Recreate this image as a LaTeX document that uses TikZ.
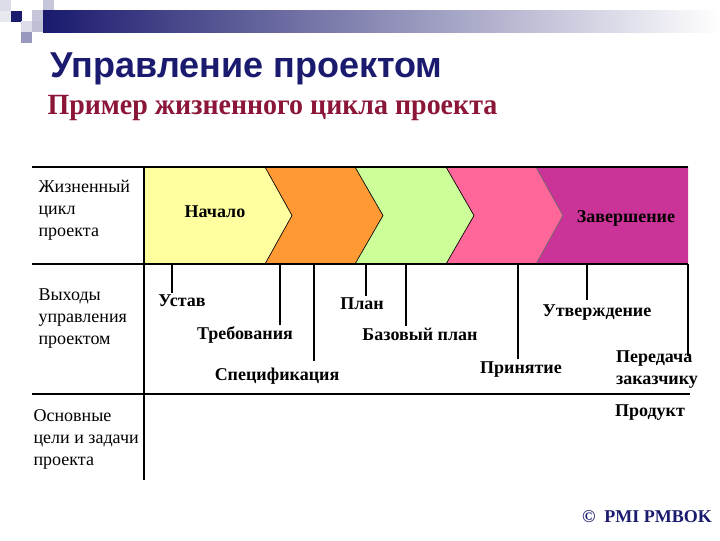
\documentclass[tikz,border=0pt]{standalone}
\usepackage{fontspec}
\setmainfont{Liberation Serif}
\newfontfamily\headfont{Liberation Sans}
\usetikzlibrary{calc}

\definecolor{navy}{RGB}{26,26,110}
\definecolor{maroon}{RGB}{140,22,56}
\definecolor{chyellow}{RGB}{255,255,160}
\definecolor{chorange}{RGB}{255,153,51}
\definecolor{chgreen}{RGB}{204,255,153}
\definecolor{chpink}{RGB}{255,102,153}
\definecolor{chpurple}{RGB}{204,51,153}

\begin{document}
\begin{tikzpicture}
	[
	x=0.75pt, y=-0.75pt,
	every node/.style={inner sep=1pt},
	rowtext/.style={align=left, anchor=west, font=\fontsize{13.5}{16.5}\selectfont},
	outtext/.style={font=\bfseries\fontsize{13.5}{16.5}\selectfont},
	rule/.style={line width=0.9pt},
	tickline/.style={line width=0.8pt},
	chev/.style={draw=black, line width=0.5pt}
	]
	\useasboundingbox (0,0) rectangle (720,540);

	\fill[navy!15] (0,0) rectangle (11,11);
	\fill[navy!10] (0,11) rectangle (11,22);
	\fill[navy] (11,11) rectangle (22,22);
	\fill[navy!25] (32,10) rectangle (43,21);
	\fill[navy!25] (43,0) rectangle (54,10);
	\fill[navy!15] (21,21) rectangle (32,32);
	\fill[navy!28] (32,21) rectangle (43,32);
	\fill[navy!45] (21,32) rectangle (32,43);
	\shade[left color=navy, right color=white] (43,10) rectangle (720,32);

	\node[anchor=west, text=navy, font=\headfont\bfseries\fontsize{27}{31}\selectfont] (title) at (49,69) {Управление проектом};
	\node[anchor=west, text=maroon, xscale=0.953, font=\bfseries\fontsize{22}{26}\selectfont] (subtitle) at (46,108) {Пример жизненного цикла проекта};

	\coordinate (c1) at (265,167);
	\coordinate (p1) at (292,215.5);
	\coordinate (d1) at (265,264);
	\coordinate (c2) at (355,167);
	\coordinate (p2) at (383,215.5);
	\coordinate (d2) at (355,264);
	\coordinate (c3) at (446,167);
	\coordinate (p3) at (474,215.5);
	\coordinate (d3) at (446,264);
	\coordinate (c4) at (536,167);
	\coordinate (p4) at (563,215.5);
	\coordinate (d4) at (536,264);

	\fill[chyellow] (144,167) -- (c1) -- (p1) -- (d1) -- (144,264) -- cycle;
	\fill[chorange] (c1) -- (c2) -- (p2) -- (d2) -- (d1) -- (p1) -- cycle;
	\fill[chgreen] (c2) -- (c3) -- (p3) -- (d3) -- (d2) -- (p2) -- cycle;
	\fill[chpink] (c3) -- (c4) -- (p4) -- (d4) -- (d3) -- (p3) -- cycle;
	\fill[chpurple] (c4) -- (688,167) -- (688,264) -- (d4) -- (p4) -- cycle;
	\draw[chev] (c1) -- (p1) -- (d1);
	\draw[chev] (c2) -- (p2) -- (d2);
	\draw[chev] (c3) -- (p3) -- (d3);
	\draw[chev, draw=black!60] (c4) -- (p4) -- (d4);

	\draw[rule] (32,167) -- (688,167);
	\draw[rule] (32,264) -- (688,264);
	\draw[rule] (32,394) -- (690,394);
	\draw[rule] (144,167) -- (144,480);

	\node[rowtext] (life) at (37,210) {Жизненный\\цикл\\проекта};
	\node[rowtext] (outs) at (37,319) {Выходы\\управления\\проектом};
	\node[rowtext] (goals) at (32,439) {Основные\\цели и задачи\\проекта};

	\node[outtext] (start) at (215,212) {Начало};
	\node[outtext] (finish) at (626,218) {Завершение};

	\node[outtext] (charter) at (182,301) {Устав};
	\node[outtext] (reqs) at (245,335) {Требования};
	\node[outtext] (spec) at (277,376) {Спецификация};
	\node[outtext] (plan) at (362,304) {План};
	\node[outtext] (base) at (420,334) {Базовый план};
	\node[outtext] (accept) at (521,370) {Принятие};
	\node[outtext] (approve) at (597,313) {Утверждение};
	\node[outtext, align=left] (handover) at (657,370) {Передача\\заказчику};
	\node[outtext] (product) at (650,413) {Продукт};
	\node[outtext, text=navy] (copy) at (647,517) {©\ \ PMI PMBOK};

	\coordinate (t1) at (172,264);
	\coordinate (t2) at (280,264);
	\coordinate (t3) at (314,264);
	\coordinate (t4) at (366,264);
	\coordinate (t5) at (406,264);
	\coordinate (t6) at (518,264);
	\coordinate (t7) at (587,264);
	\coordinate (t8) at (688,264);
	\draw[tickline] (t1) -- (t1 |- charter.north);
	\draw[tickline] (t2) -- (t2 |- reqs.north);
	\draw[tickline] (t3) -- ($(t3 |- spec.north)+(0,-5)$);
	\draw[tickline] (t4) -- (t4 |- plan.north);
	\draw[tickline] (t5) -- (t5 |- base.north);
	\draw[tickline] (t6) -- ($(t6 |- accept.north)+(0,-2)$);
	\draw[tickline] (t7) -- ($(t7 |- approve.north)+(0,-4)$);
	\draw[tickline] (t8) -- ($(t8 |- handover.north)+(0,6)$);
\end{tikzpicture}
\end{document}
